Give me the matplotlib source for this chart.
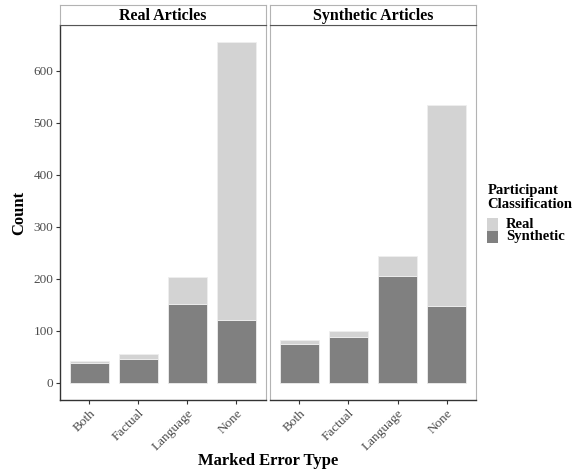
import matplotlib
matplotlib.use("Agg")
import matplotlib.pyplot as plt
from matplotlib.patches import Rectangle
import numpy as np

categories = ["Both", "Factual", "Language", "None"]
facets = ["Real Articles", "Synthetic Articles"]
# counts: participant classified as Synthetic / Real
synthetic_counts = {
    "Real Articles": [39, 46, 152, 121],
    "Synthetic Articles": [74, 88, 205, 148],
}
real_counts = {
    "Real Articles": [4, 9, 52, 534],
    "Synthetic Articles": [8, 12, 39, 386],
}
yticks = [0, 100, 200, 300, 400, 500, 600]
legend_labels = ["Real", "Synthetic"]
legend_title = "Participant\nClassification"

COL_REAL = "#D3D3D3"
COL_SYN = "#808080"
TICK_COL = "#4D4D4D"
FONT = "Liberation Serif"

plt.rcParams["font.family"] = FONT

W, H = 575, 470
fig = plt.figure(figsize=(W / 100, H / 100), dpi=100)

def fx(px):
    return px / W

def fy(py):
    return 1 - py / H

panel_top, panel_bot = 25.3, 400.0
strip_top = 5.3
lefts = [59.7, 270.0]
pw = 206.0

allmax = max(max(np.array(synthetic_counts[f]) + np.array(real_counts[f])) for f in facets)
ylo, yhi = -0.05 * allmax, allmax * 1.05

x = np.arange(1, len(categories) + 1)
for i, f in enumerate(facets):
    ax = fig.add_axes([fx(lefts[i]), fy(panel_bot), fx(pw), (panel_bot - panel_top) / H])
    syn = np.array(synthetic_counts[f])
    rl = np.array(real_counts[f])
    ax.bar(x, syn, width=0.8, color=COL_SYN, edgecolor="#EEEEEE", linewidth=0.6)
    ax.bar(x, rl, bottom=syn, width=0.8, color=COL_REAL, edgecolor="#EEEEEE", linewidth=0.6)
    ax.set_xlim(0.4, 4.6)
    ax.set_ylim(ylo, yhi)
    ax.set_xticks(x)
    ax.set_xticklabels(categories, rotation=45, ha="right", va="top",
                       rotation_mode="anchor", color=TICK_COL, fontsize=9.5)
    ax.set_yticks(yticks)
    if i == 0:
        ax.set_yticklabels([str(t) for t in yticks], color=TICK_COL, fontsize=9.5)
        ax.tick_params(axis="y", length=3, width=0.8, color="#333333", pad=1.5)
    else:
        ax.set_yticklabels([])
        ax.tick_params(axis="y", length=0)
    ax.tick_params(axis="x", length=3, width=0.8, color="#333333", pad=2)
    ax.spines["right"].set_color("#B3B3B3")
    ax.spines["right"].set_linewidth(0.8)
    ax.spines["top"].set_color("#555555")
    ax.spines["top"].set_linewidth(0.8)
    ax.spines["bottom"].set_color("#333333")
    ax.spines["bottom"].set_linewidth(1.0)
    if i == 0:
        ax.spines["left"].set_color("#333333")
        ax.spines["left"].set_linewidth(1.0)
    else:
        ax.spines["left"].set_color("#B3B3B3")
        ax.spines["left"].set_linewidth(0.8)

    sax = fig.add_axes([fx(lefts[i]), fy(panel_top), fx(pw), (panel_top - strip_top) / H])
    sax.set_xticks([])
    sax.set_yticks([])
    for s in ["top", "left", "right"]:
        sax.spines[s].set_color("#B3B3B3")
        sax.spines[s].set_linewidth(0.8)
    sax.spines["bottom"].set_color("#555555")
    sax.text(0.5, 0.47, f, transform=sax.transAxes, ha="center", va="center",
             fontsize=11.5, fontweight="bold", color="black")

fig.text(fx(19), fy(212.6), "Count", rotation=90, ha="center", va="center",
         fontsize=12, fontweight="bold", color="black")
fig.text(fx(268), fy(461), "Marked Error Type", ha="center", va="center",
         fontsize=12, fontweight="bold", color="black")

# legend drawn manually
fig.text(fx(487.5), fy(197.5), legend_title, ha="left", va="center",
         fontsize=10.5, fontweight="bold", color="black", linespacing=1.12)
key_cols = [COL_REAL, COL_SYN]
key_top = 218.3
key_h = 12.3
for j, (lab, col) in enumerate(zip(legend_labels, key_cols)):
    ytop = key_top + j * key_h
    fig.patches.append(Rectangle((fx(487.3), fy(ytop + key_h)), fx(10.8), key_h / H,
                                 transform=fig.transFigure, facecolor=col,
                                 edgecolor="none"))
    fig.text(fx(506), fy(ytop + key_h / 2), lab, ha="left", va="center",
             fontsize=10.5, fontweight="bold", color="black")

fig.savefig("out.png", dpi=100)
